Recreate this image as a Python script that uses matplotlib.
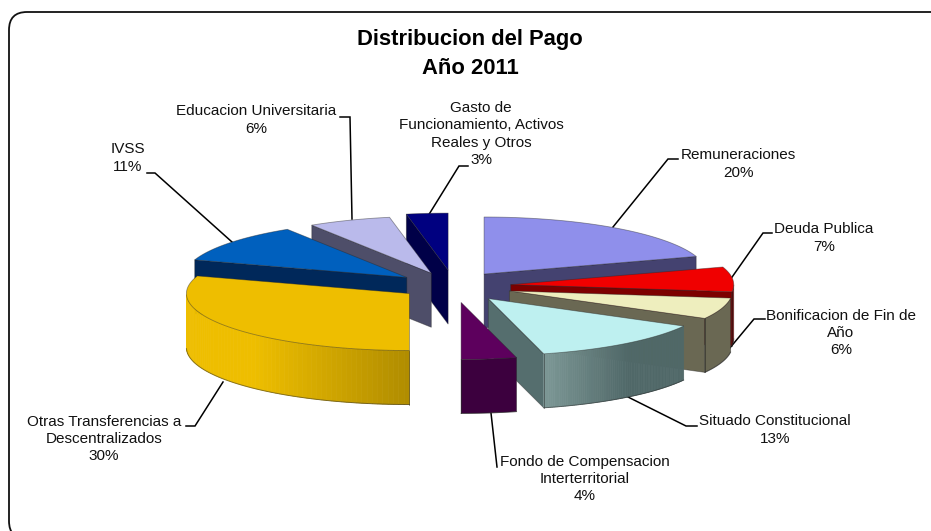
import numpy as np
import matplotlib
matplotlib.use('Agg')
import matplotlib.pyplot as plt
from matplotlib.patches import FancyBboxPatch, Polygon

plt.rcParams['font.family'] = ['Liberation Sans', 'DejaVu Sans']

# slices go clockwise from 12 o'clock
names = ['Remuneraciones', 'Deuda Publica', 'Bonificacion de Fin de\nAño', 'Situado Constitucional',
         'Fondo de Compensacion\nInterterritorial', 'Otras Transferencias a\nDescentralizados',
         'IVSS', 'Educacion Universitaria', 'Gasto de\nFuncionamiento, Activos\nReales y Otros']
values = [20, 7, 6, 13, 4, 30, 11, 6, 3]
explode = [0.26, 0.26, 0.28, 0.28, 0.29, 0.225, 0.245, 0.24, 0.28]
nudge_x = [0, 3, 0, 0, 3, 0, 0, 1, 4]
top_colors = ['#8f8feb', '#f00000', '#eeeebe', '#bef0f0', '#5d005d', '#eebe00', '#0060be', '#babaeb', '#000080']
side_colors = ['#444270', '#7d0000', '#6a6853', '#556e6e', '#3c003e', '#eebe00', '#00285a', '#4e4e69', '#000048']
# left and right colour of the outer rim, for the slices that show a shaded one
rim_shade = {3: ('#7d9896', '#506868'), 5: ('#eebe00', '#b08c00')}

label_pos = [(738, 164), (824, 238), (841, 333), (775, 430), (585, 479), (104, 439), (128, 158), (256, 120), (481, 134)]
leaders = [[(678, 159), (668, 159), (613, 227)],
           [(772, 233), (763, 233), (730, 280)],
           [(765, 319), (754, 319), (719, 361)],
           [(697, 426), (686, 426), (628, 397)],
           [(497, 467), (491, 413)],
           [(186, 426), (195, 426), (223, 382)],
           [(147, 173), (155, 173), (232, 242)],
           [(340, 117), (350, 117), (352, 219)],
           [(468, 166), (459, 166), (428, 216)]]

cx, cy = 450, 286
rx, ry = 223, 57
depth = 54

fig = plt.figure(figsize=(9.31, 5.31), dpi=100)
ax = fig.add_axes([0, 0, 1, 1])
ax.set_xlim(0, 931)
ax.set_ylim(531, 0)
ax.axis('off')

frame = FancyBboxPatch((9, 12), 960, 527, boxstyle='round,pad=0,rounding_size=18',
                       fc='white', ec='#111111', lw=1.3, zorder=0)
ax.add_patch(frame)


def pt(ox, oy, deg):
    return ox + rx * np.cos(np.radians(deg)), oy - ry * np.sin(np.radians(deg))


def face(pts, color, z):
    ax.add_patch(Polygon(pts, closed=True, fc=color, ec=(0.15, 0.15, 0.15, 0.45), lw=0.6, zorder=z))


# work out every slice first so they can be painted from back to front
slices = []
start = 90.0
for i, v in enumerate(values):
    end = start - v * 3.6
    mid = (start + end) / 2
    ox, oy = pt(cx, cy, mid)
    ox = cx + (ox - cx) * explode[i] + nudge_x[i]
    oy = cy + (oy - cy) * explode[i]
    slices.append((oy, i, ox, start, end))
    start = end

for z, (oy, i, ox, a0, a1) in enumerate(sorted(slices)):
    zz = 2 + z
    ang = np.linspace(a0, a1, 80)
    arc = [pt(ox, oy, a) for a in ang]
    # radial walls, only those turned to the viewer
    if np.cos(np.radians(a0)) < -1e-6:
        p = pt(ox, oy, a0)
        face([(ox, oy), p, (p[0], p[1] + depth), (ox, oy + depth)], side_colors[i], zz)
    if np.cos(np.radians(a1)) > 1e-6:
        p = pt(ox, oy, a1)
        face([(ox, oy), p, (p[0], p[1] + depth), (ox, oy + depth)], side_colors[i], zz)
    # outer rim, front half only
    front = [a for a in ang if np.sin(np.radians(a)) <= 0.001]
    if len(front) > 1:
        rim = [pt(ox, oy, a) for a in front]
        if i in rim_shade:
            c0 = np.array(matplotlib.colors.to_rgb(rim_shade[i][0]))
            c1 = np.array(matplotlib.colors.to_rgb(rim_shade[i][1]))
            xs = [p[0] for p in rim]
            for k in range(len(rim) - 1):
                # yellow stays flat for a stretch, teal darkens early
                t = (0.5 * (rim[k][0] + rim[k + 1][0]) - min(xs)) / (max(xs) - min(xs))
                t = max(0, (t - 0.3) / 0.7) if i == 5 else min(1, t / 0.6)
                col = c0 + (c1 - c0) * t
                q = [rim[k], rim[k + 1], (rim[k + 1][0], rim[k + 1][1] + depth), (rim[k][0], rim[k][1] + depth)]
                ax.add_patch(Polygon(q, closed=True, fc=col, ec=col, lw=0.5, zorder=zz))
        else:
            face(rim + [(p[0], p[1] + depth) for p in rim[::-1]], side_colors[i], zz)
        ax.plot([p[0] for p in rim], [p[1] + depth for p in rim], color=(0.15, 0.15, 0.15, 0.5), lw=0.7, zorder=zz)
        p = rim[-1] if i != 5 else rim[0]
        ax.plot([p[0], p[0]], [p[1], p[1] + depth], color=(0.1, 0.1, 0.1, 0.5), lw=0.6, zorder=zz)
    face([(ox, oy)] + arc, top_colors[i], zz)

for line in leaders:
    ax.plot([p[0] for p in line], [p[1] for p in line], color='black', lw=1.1, zorder=1,
            solid_joinstyle='miter')

for name, v, (x, y) in zip(names, values, label_pos):
    ax.text(x, y, f'{name}\n{v}%', ha='center', va='center', fontsize=11, color='#111111',
            linespacing=1.3, zorder=40)

ax.text(470, 54, 'Distribucion del Pago\nAño 2011', ha='center', va='center', fontsize=15.8,
        fontweight='bold', color='black', linespacing=1.45, zorder=40)

fig.savefig('out.png', dpi=100)
